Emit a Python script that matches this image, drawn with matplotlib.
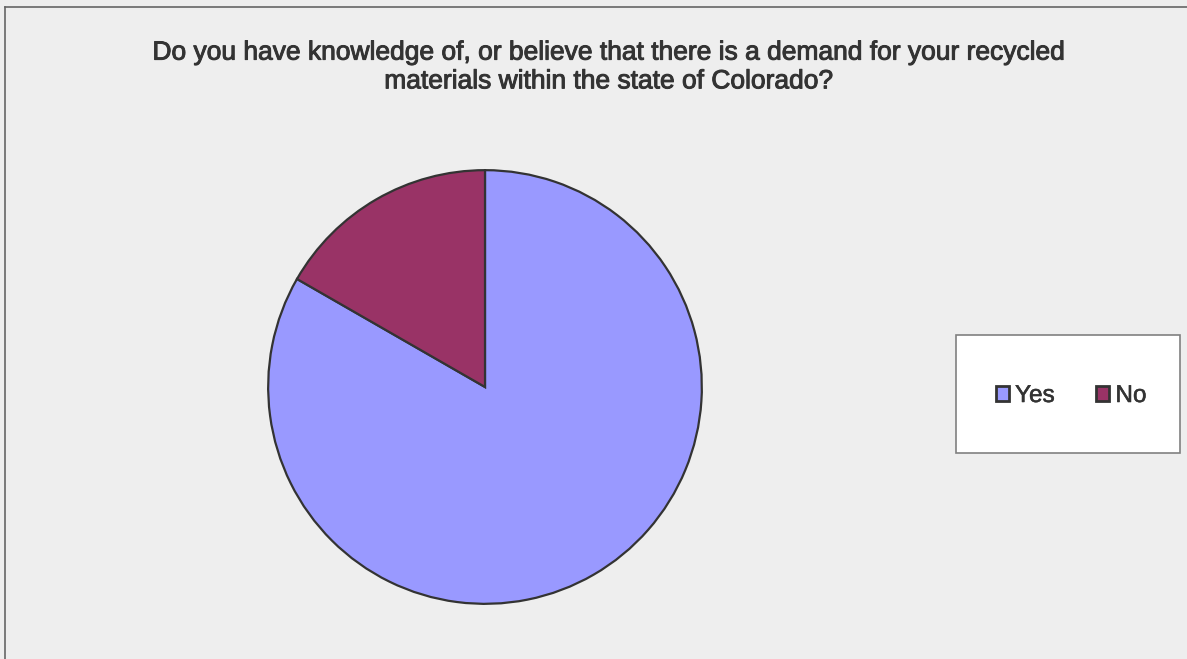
import matplotlib
matplotlib.use("Agg")
import matplotlib.pyplot as plt
import matplotlib.patheffects as pe
from matplotlib.patches import Rectangle
from matplotlib.lines import Line2D

labels = ["Yes", "No"]
values = [83.3, 16.7]
colors = ["#9999FF", "#993366"]
title = ("Do you have knowledge of, or believe that there is a demand for your recycled\n"
         "materials within the state of Colorado?")

plt.rcParams['font.family'] = ['Liberation Sans', 'DejaVu Sans']

W, H = 1187, 659
fig = plt.figure(figsize=(W / 100, H / 100), dpi=100)
fig.patch.set_facecolor("#EEEEEE")

# border lines (top and left)
fig.add_artist(Line2D([5 / W, 1.0], [1 - 7 / H, 1 - 7 / H], color="#666666", lw=1.2, transform=fig.transFigure))
fig.add_artist(Line2D([5 / W, 5 / W], [0, 1 - 7 / H], color="#666666", lw=1.2, transform=fig.transFigure))

cx, cy, r = 485, 387, 219
ax = fig.add_axes([(cx - r) / W, (H - cy - r) / H, 2 * r / W, 2 * r / H])
ax.set_facecolor("none")
wedges, _ = ax.pie(values, colors=colors, startangle=90, counterclock=False,
                   wedgeprops=dict(edgecolor="#333333", linewidth=1.6), radius=1)
ax.set_xlim(-1.01, 1.01)
ax.set_ylim(-1.01, 1.01)
ax.set_aspect("equal")
ax.axis("off")

bold_fx = [pe.withStroke(linewidth=0.7, foreground="#333333")]
fig.text(609 / W, 1 - 67 / H, title, ha="center", va="center", fontsize=19,
         color="#333333", linespacing=1.25, path_effects=bold_fx)

# legend box
x0, y0, x1, y1 = 956, 335, 1180, 453
fig.add_artist(Rectangle((x0 / W, 1 - y1 / H), (x1 - x0) / W, (y1 - y0) / H,
                         transform=fig.transFigure, facecolor="white",
                         edgecolor="#808080", lw=1.2))
leg = fig.legend(wedges, labels, loc="center", bbox_to_anchor=(1071 / W, 1 - 396 / H),
                 ncol=2, frameon=False, fontsize=17.5, handlelength=0.55, handleheight=0.55,
                 handletextpad=0.25, columnspacing=1.7, labelcolor="#333333")
for h in leg.legend_handles:
    h.set_linewidth(2)
    h.set_edgecolor("#333333")
for t in leg.get_texts():
    t.set_path_effects([pe.withStroke(linewidth=0.4, foreground="#333333")])

fig.savefig("out.png", dpi=100, facecolor=fig.get_facecolor())
